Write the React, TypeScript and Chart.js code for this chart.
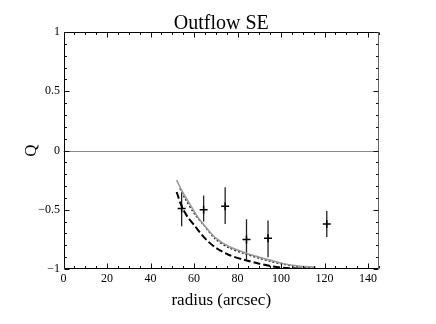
import React, { useEffect, useRef } from "react";
import { Chart, registerables } from "chart.js";

Chart.register(...registerables);

const TITLE = "Outflow SE";
const X_TITLE = "radius (arcsec)";
const Y_TITLE = "Q";

const X_MIN = 0;
const X_MAX = 145;
const X_STEP = 20;
const X_MINOR = 5;
const Y_MIN = -1;
const Y_MAX = 1;
const Y_STEP = 0.5;
const Y_MINOR = 0.1;
const REF_LINE_Q = 0;

// measured points with vertical error bars
const radius = [54.3, 64.4, 74.3, 84.1, 94.0, 121.0];
const qValue = [-0.49, -0.5, -0.47, -0.75, -0.74, -0.62];
const qHigh = [-0.36, -0.38, -0.31, -0.58, -0.59, -0.51];
const qLow = [-0.64, -0.6, -0.62, -0.92, -0.9, -0.73];

// model curves
const grayR = [52, 55, 58, 62, 66, 70, 76, 83, 90, 95, 101, 108, 116];
const grayQ = [-0.25, -0.36, -0.45, -0.57, -0.66, -0.74, -0.81, -0.86, -0.9, -0.925, -0.955, -0.975, -0.985];
const dotR = [53.5, 56, 60, 64, 70, 76, 83, 90, 95, 101, 108, 116];
const dotQ = [-0.32, -0.41, -0.53, -0.62, -0.75, -0.82, -0.87, -0.91, -0.935, -0.96, -0.98, -0.99];
const dashR = [52, 54.3, 57, 60.5, 63.5, 66.6, 70, 75.8, 83.4, 90, 95, 101, 108, 116];
const dashQ = [-0.35, -0.47, -0.56, -0.64, -0.71, -0.77, -0.82, -0.88, -0.924, -0.955, -0.975, -0.99, -0.995, -1.0];

const SERIF = "'Liberation Serif', 'DejaVu Serif', serif";

const zip = (xs: number[], ys: number[]) => xs.map((x, i) => ({ x, y: ys[i] }));

const decorPlugin = {
  id: "decor",
  beforeDatasetsDraw(chart: any) {
    const { ctx, chartArea: a, scales } = chart;
    const x = scales.x;
    const y = scales.y;
    ctx.save();
    // reference line
    const py = Math.round(y.getPixelForValue(REF_LINE_Q)) + 0.5;
    ctx.strokeStyle = "#8a8a8a";
    ctx.lineWidth = 1;
    ctx.beginPath();
    ctx.moveTo(a.left, py);
    ctx.lineTo(a.right, py);
    ctx.stroke();
    // error bars
    ctx.strokeStyle = "#222";
    ctx.lineWidth = 1.3;
    for (let i = 0; i < radius.length; i++) {
      const px = x.getPixelForValue(radius[i]);
      ctx.beginPath();
      ctx.moveTo(px, y.getPixelForValue(qHigh[i]));
      ctx.lineTo(px, y.getPixelForValue(qLow[i]));
      ctx.stroke();
    }
    ctx.restore();
  },
  afterDraw(chart: any) {
    const { ctx, chartArea: a, scales } = chart;
    const x = scales.x;
    const y = scales.y;
    ctx.save();
    const L = Math.round(a.left) + 0.5;
    const R = Math.round(a.right) - 0.5;
    const T = Math.round(a.top) + 0.5;
    const B = Math.round(a.bottom) - 0.5;
    ctx.lineWidth = 1;
    ctx.strokeStyle = "#000";
    ctx.beginPath();
    ctx.moveTo(R, T);
    ctx.lineTo(L, T);
    ctx.lineTo(L, B);
    ctx.lineTo(R, B);
    ctx.stroke();
    ctx.strokeStyle = "#666";
    ctx.beginPath();
    ctx.moveTo(R, T);
    ctx.lineTo(R, B);
    ctx.stroke();
    // ticks
    ctx.strokeStyle = "#111";
    const nx = Math.round((X_MAX - X_MIN) / X_MINOR);
    for (let i = 0; i <= nx; i++) {
      const v = X_MIN + i * X_MINOR;
      if (v > X_MAX) break;
      const major = Math.abs(v / X_STEP - Math.round(v / X_STEP)) < 1e-6;
      const len = major ? 5 : 2.5;
      const px = Math.round(x.getPixelForValue(v)) + 0.5;
      ctx.beginPath();
      ctx.moveTo(px, B);
      ctx.lineTo(px, B - len);
      ctx.moveTo(px, T);
      ctx.lineTo(px, T + len);
      ctx.stroke();
    }
    const ny = Math.round((Y_MAX - Y_MIN) / Y_MINOR);
    for (let i = 0; i <= ny; i++) {
      const v = Y_MIN + i * Y_MINOR;
      const major = Math.abs(v / Y_STEP - Math.round(v / Y_STEP)) < 1e-6;
      const len = major ? 5 : 2.5;
      const pyy = Math.round(y.getPixelForValue(v)) + 0.5;
      ctx.beginPath();
      ctx.moveTo(L, pyy);
      ctx.lineTo(L + len, pyy);
      ctx.moveTo(R, pyy);
      ctx.lineTo(R - len, pyy);
      ctx.stroke();
    }
    ctx.restore();
  },
};

export default function App() {
  const ref = useRef<HTMLCanvasElement | null>(null);
  useEffect(() => {
    if (!ref.current) return;
    const chart = new Chart(ref.current, {
      type: "scatter",
      data: {
        datasets: [
          {
            label: "model gray",
            data: zip(grayR, grayQ),
            showLine: true,
            borderColor: "#9a9a9a",
            borderWidth: 1.6,
            pointRadius: 0,
            tension: 0.3,
          },
          {
            label: "model dotted",
            data: zip(dotR, dotQ),
            showLine: true,
            borderColor: "#222",
            borderWidth: 1.4,
            borderDash: [2, 2],
            pointRadius: 0,
            tension: 0.3,
          },
          {
            label: "model dashed",
            data: zip(dashR, dashQ),
            showLine: true,
            borderColor: "#000",
            borderWidth: 2,
            borderDash: [7, 3],
            pointRadius: 0,
            tension: 0.3,
          },
          {
            label: "Q",
            data: zip(radius, qValue),
            showLine: false,
            pointStyle: "cross",
            pointRadius: 4,
            borderColor: "#000",
            backgroundColor: "#000",
            borderWidth: 1.5,
          },
        ],
      },
      options: {
        animation: false,
        responsive: false,
        maintainAspectRatio: false,
        layout: { padding: { left: 0, right: 57, top: 0, bottom: 0 } },
        plugins: {
          legend: { display: false },
          tooltip: { enabled: false },
          title: {
            display: true,
            fullSize: false,
            text: TITLE,
            color: "#000",
            font: { family: SERIF, size: 20, weight: "normal", lineHeight: 0.8 },
            padding: { top: 16, bottom: 0 },
          },
        },
        scales: {
          x: {
            type: "linear",
            min: X_MIN,
            max: X_MAX,
            grid: { display: false, drawTicks: false },
            border: { display: false },
            afterFit: (s: any) => {
              s.height = 55;
            },
            ticks: {
              stepSize: X_STEP,
              includeBounds: false,
              padding: 3,
              color: "#000",
              font: { family: SERIF, size: 12 },
              maxRotation: 0,
            },
            title: {
              display: true,
              text: X_TITLE,
              color: "#000",
              font: { family: SERIF, size: 17, lineHeight: 1.2 },
              padding: { top: 0, bottom: 12.8 },
            },
          },
          y: {
            type: "linear",
            min: Y_MIN,
            max: Y_MAX,
            grid: { display: false, drawTicks: false },
            border: { display: false },
            afterFit: (s: any) => {
              s.width = 63.5;
            },
            ticks: {
              stepSize: Y_STEP,
              padding: 3.5,
              color: "#000",
              font: { family: SERIF, size: 12 },
              callback: (v: any) => {
                const n = Number(v);
                if (Math.abs(n) < 1e-9) return "0";
                return String(n).replace("-", "\u2212");
              },
            },
            title: {
              display: true,
              text: Y_TITLE,
              color: "#000",
              font: { family: SERIF, size: 17, lineHeight: 1.2 },
              padding: { top: 21.8, bottom: 0 },
            },
          },
        },
      },
      plugins: [decorPlugin],
    } as any);
    return () => chart.destroy();
  }, []);
  return (
    <div style={{ position: "fixed", left: 0, top: 0, width: 436, height: 324, background: "#fff" }}>
      <canvas ref={ref} width={436} height={324} style={{ width: 436, height: 324, display: "block" }} />
    </div>
  );
}
